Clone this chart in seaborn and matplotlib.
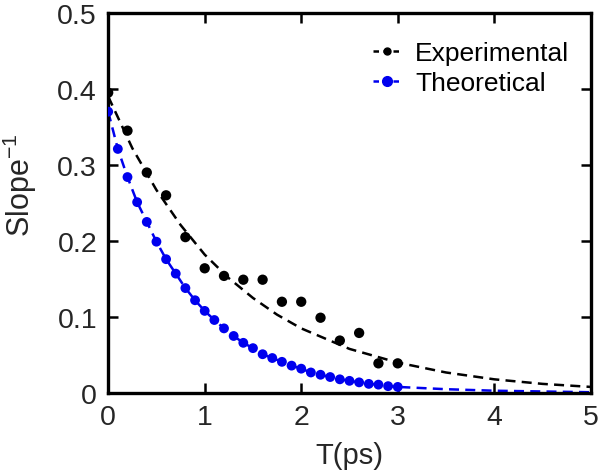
import matplotlib
matplotlib.use("Agg")
import matplotlib.pyplot as plt
from matplotlib.lines import Line2D
import seaborn as sns

# experimental points
exp_t = [0.0, 0.2, 0.4, 0.6, 0.8, 1.0, 1.2, 1.4, 1.6, 1.8, 2.0, 2.2, 2.4, 2.6, 2.8, 3.0]
exp_slope = [0.395, 0.345, 0.29, 0.26, 0.205, 0.164, 0.154, 0.149, 0.149, 0.12, 0.12,
             0.099, 0.069, 0.079, 0.039, 0.039]

# theoretical points
theo_t = [0.0, 0.1, 0.2, 0.3, 0.4, 0.5, 0.6, 0.7, 0.8, 0.9, 1.0, 1.1, 1.2, 1.3, 1.4, 1.5,
          1.6, 1.7, 1.8, 1.9, 2.0, 2.1, 2.2, 2.3, 2.4, 2.5, 2.6, 2.7, 2.8, 2.9, 3.0]
theo_slope = [0.37, 0.321, 0.284, 0.251, 0.225, 0.199, 0.176, 0.157, 0.138, 0.122, 0.108,
              0.096, 0.085, 0.075, 0.066, 0.059, 0.051, 0.046, 0.041, 0.036, 0.032, 0.027,
              0.024, 0.021, 0.018, 0.016, 0.014, 0.012, 0.011, 0.009, 0.008]

# fitted curves (dashed)
fit_exp_t = [0.0, 0.25, 0.5, 0.75, 1.0, 1.25, 1.5, 1.75, 2.0, 2.5, 3.0, 3.5, 4.0, 4.5, 5.0]
fit_exp_slope = [0.39, 0.322, 0.267, 0.221, 0.182, 0.151, 0.125, 0.103, 0.085, 0.058,
                 0.040, 0.027, 0.018, 0.012, 0.008]
fit_theo_t = theo_t + [3.5, 4.0, 4.5, 5.0]
fit_theo_slope = theo_slope + [0.005, 0.003, 0.002, 0.001]

sns.set_style("ticks")
plt.rcParams["font.family"] = ["Liberation Sans", "DejaVu Sans"]
plt.rcParams["mathtext.fontset"] = "custom"
plt.rcParams["mathtext.rm"] = "Liberation Sans"
plt.rcParams["mathtext.it"] = "Liberation Sans"

txt = "#262626"
blue = "#0000ee"

fig = plt.figure(figsize=(6.01, 4.77), dpi=100)
ax = fig.add_axes([0.18, 0.174, 0.803, 0.797])

# dashed fit lines
sns.lineplot(x=fit_exp_t, y=fit_exp_slope, ax=ax, color="black", lw=1.8,
             estimator=None, sort=False)
sns.lineplot(x=fit_theo_t, y=fit_theo_slope, ax=ax, color=blue, lw=1.8,
             estimator=None, sort=False)
for ln in ax.lines:
    ln.set_linestyle((0, (4, 2.5)))

# points
sns.scatterplot(x=exp_t, y=exp_slope, ax=ax, color="black", s=55, edgecolor="none", zorder=3)
sns.scatterplot(x=theo_t, y=theo_slope, ax=ax, color=blue, s=50, edgecolor="none", zorder=3)

ax.set_xlim(0, 5)
ax.set_ylim(0, 0.5)
ax.set_xticks([0, 1, 2, 3, 4, 5])
ax.set_xticklabels(["0", "1", "2", "3", "4", "5"])
ax.set_yticks([0, 0.1, 0.2, 0.3, 0.4, 0.5])
ax.set_yticklabels(["0", "0.1", "0.2", "0.3", "0.4", "0.5"])

for s in ax.spines.values():
    s.set_linewidth(2.4)
    s.set_color("black")
ax.tick_params(direction="in", length=7, width=1.8, top=True, right=True,
               labelsize=20.5, pad=8, color="black", labelcolor=txt)

ax.set_xlabel("T(ps)", fontsize=21, labelpad=8, color=txt)
ax.set_ylabel("Slope$^{-1}$", fontsize=22, color=txt)
ax.yaxis.set_label_coords(-0.143, 0.55)

handles = [
    Line2D([], [], color="black", ls=(0, (2.2, 1.8)), lw=1.8, marker="o", markersize=5),
    Line2D([], [], color=blue, ls=(0, (2.2, 1.8)), lw=1.8, marker="o", markersize=7),
]
leg = fig.legend(handles, ["Experimental", "Theoretical"], loc="upper right", frameon=False,
                 fontsize=19, handlelength=1.1, handletextpad=0.5, labelspacing=0.22,
                 borderpad=0, borderaxespad=0, bbox_to_anchor=(569 / 601, 1 - 42 / 477))
for t in leg.get_texts():
    t.set_color("black")

fig.savefig("out.png", dpi=100)
